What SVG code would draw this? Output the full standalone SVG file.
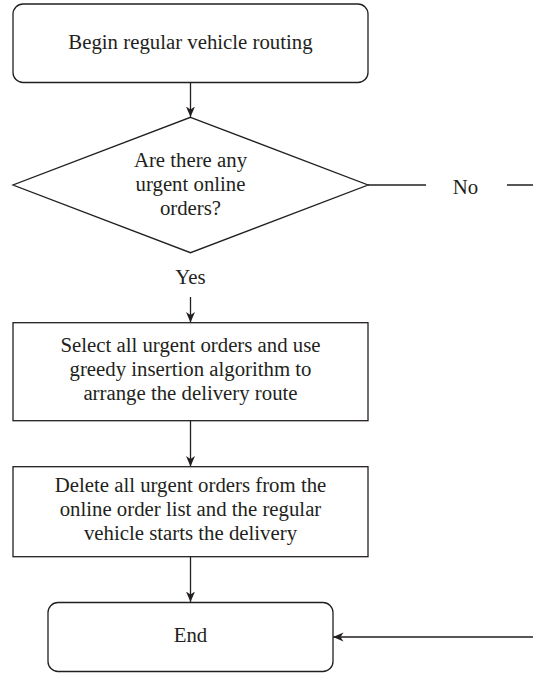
<svg xmlns="http://www.w3.org/2000/svg" width="533" height="673" viewBox="0 0 533 673">
<style>
  .shape { fill: #ffffff; stroke: #231f20; stroke-width: 1.3; }
  .conn { fill: none; stroke: #231f20; stroke-width: 1.3; }
  text { font-family: "Liberation Serif", "Times New Roman", serif; font-size: 20.8px; fill: #231f20; text-anchor: middle; }
</style>
<defs>
  <marker id="arrow" markerUnits="userSpaceOnUse" markerWidth="12" markerHeight="10" refX="10.5" refY="4.5" orient="auto">
    <path d="M0,0 L10.5,4.5 L0,9 L3,4.5 z" fill="#231f20"/>
  </marker>
</defs>
<rect width="533" height="673" fill="#ffffff"/>

<g id="connectors">
  <line class="conn" x1="190.5" y1="82.5" x2="190.5" y2="117" marker-end="url(#arrow)"/>
  <line class="conn" x1="190.5" y1="297" x2="190.5" y2="322.5" marker-end="url(#arrow)"/>
  <line class="conn" x1="190.5" y1="420.7" x2="190.5" y2="466.5" marker-end="url(#arrow)"/>
  <line class="conn" x1="190.5" y1="556.7" x2="190.5" y2="602" marker-end="url(#arrow)"/>
  <line class="conn" x1="368" y1="185" x2="426" y2="185"/>
  <path class="conn" d="M507,185 L545,185 L545,637 L333,637" marker-end="url(#arrow)"/>
  <text x="190.5" y="284">Yes</text>
  <text x="465.5" y="194">No</text>
</g>

<g id="start">
  <rect class="shape" x="13" y="4" width="355" height="78.5" rx="10" ry="10"/>
  <text x="190.5" y="49">Begin regular vehicle routing</text>
</g>

<g id="decision">
  <polygon class="shape" points="190.5,117.3 368,185 190.5,252.7 13,185"/>
  <text x="190.5" y="166.5">Are there any</text>
  <text x="190.5" y="190.5">urgent online</text>
  <text x="190.5" y="214.5">orders?</text>
</g>

<g id="select">
  <rect class="shape" x="13" y="322.7" width="355" height="98"/>
  <text x="190.5" y="352.3">Select all urgent orders and use</text>
  <text x="190.5" y="376">greedy insertion algorithm to</text>
  <text x="190.5" y="399.5">arrange the delivery route</text>
</g>

<g id="delete">
  <rect class="shape" x="13" y="466.7" width="355" height="90"/>
  <text x="190.5" y="492">Delete all urgent orders from the</text>
  <text x="190.5" y="515.7">online order list and the regular</text>
  <text x="190.5" y="539.5">vehicle starts the delivery</text>
</g>

<g id="end">
  <rect class="shape" x="48" y="602.5" width="285" height="69" rx="10" ry="10"/>
  <text x="190.5" y="642.3">End</text>
</g>
</svg>
